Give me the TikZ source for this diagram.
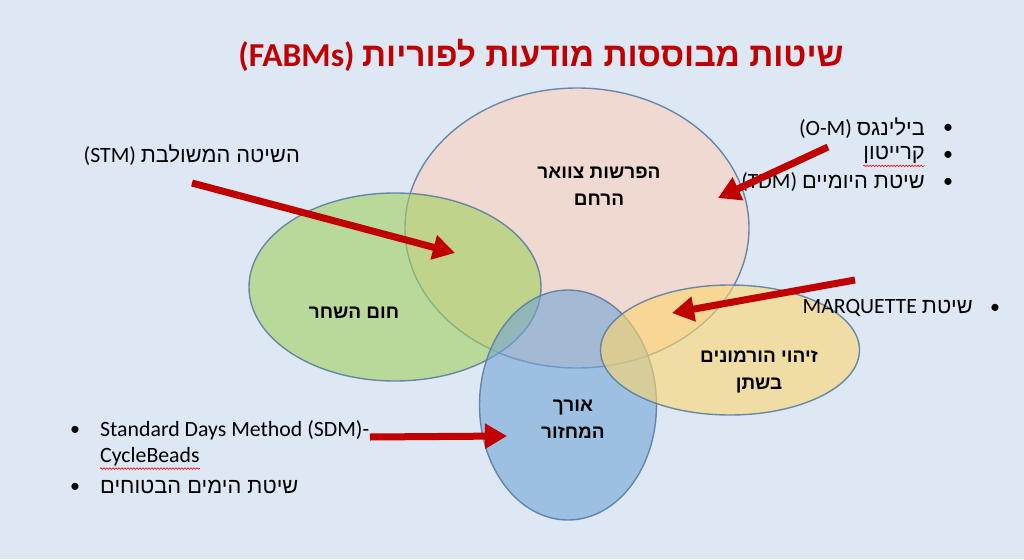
\documentclass[tikz,border=0pt]{standalone}
\usepackage{fontspec}
\setmainfont{Carlito}
\newfontfamily\heb[Script=Hebrew]{Liberation Sans}
\TeXXeTstate=1
\usetikzlibrary{shapes.geometric,arrows.meta,decorations.pathmorphing}
\definecolor{bg}{HTML}{DDE8F4}
\definecolor{edge}{HTML}{5B7EA4}
\definecolor{pinkf}{HTML}{FBCFB8}
\definecolor{greenf}{HTML}{A1CF5E}
\definecolor{bluef}{HTML}{72A5D6}
\definecolor{yellowf}{HTML}{FED76D}
\definecolor{dred}{HTML}{C00000}
\tikzset{
  venn/.style={ellipse, draw=edge, line width=1.4pt, fill opacity=0.6, draw opacity=0.9, inner sep=0pt},
  lbl/.style={font=\heb\bfseries\fontsize{19}{27}\selectfont, align=center, text=black},
  txt/.style={font=\fontsize{21.8}{26}\selectfont, text=black, inner sep=0pt},
  bul/.style={font=\fontsize{20}{24}\selectfont, text=black, inner sep=0pt},
  redarrow/.style={draw=dred, line width=7pt, -{Triangle[length=22pt,width=24pt]}},
  squiggle/.style={draw=red, line width=0.6pt, decorate, decoration={snake, amplitude=0.8pt, segment length=3pt}}
}
\begin{document}
\begin{tikzpicture}[x=1pt,y=-1pt]
\fill[bg] (0,0) rectangle (1024,559);
\useasboundingbox (0,0) rectangle (1024,559);

% title
\node[font=\bfseries\fontsize{33.5}{38}\selectfont, text=dred] (title) at (541,55)
  {\beginR{\heb שיטות מבוססות מודעות לפוריות} \beginL(FABMs)\endL\endR};

% ellipses
\node[venn, fill=pinkf, minimum width=344pt, minimum height=280pt] (cervix) at (577,228) {};
\node[venn, fill=greenf, minimum width=292pt, minimum height=188pt] (temp) at (395,287) {};
\node[venn, fill=bluef, minimum width=177pt, minimum height=230pt] (cycle) at (568,405) {};
\node[venn, fill=yellowf, minimum width=259pt, minimum height=130pt] (horm) at (730,350) {};

% ellipse labels
\node[lbl] (lcervix) at (599,186) {\beginR הפרשות צוואר\endR\\\beginR הרחם\endR};
\node[lbl] (ltemp) at (354,313) {\beginR חום השחר\endR};
\node[lbl] (lcycle) at (573,419) {\beginR אורך\endR\\\beginR המחזור\endR};
\node[lbl] (lhorm) at (759,372) {\beginR זיהוי הורמונים\endR\\\beginR בשתן\endR};

% STM label
\node[txt, anchor=east] (stm) at (300,155) {\beginR{\heb השיטה המשולבת} \beginL(STM)\endL\endR};

% top right list
\node[bul] (b1) at (948,129) {•};
\node[bul] (b2) at (948,156) {•};
\node[bul] (b3) at (948,183) {•};
\node[txt, anchor=east] (om) at (925,128) {\beginR{\heb בילינגס} \beginL(O-M)\endL\endR};
\node[txt, anchor=east] (creighton) at (925,155) {\beginR{\heb קרייטון}\endR};
\node[txt, anchor=east] (tdm) at (925,182) {\beginR{\heb שיטת היומיים} \beginL(TDM)\endL\endR};
\draw[squiggle] ([yshift=-2pt]creighton.south west) -- ([yshift=-2pt]creighton.south east);

% marquette
\node[bul] (b4) at (995,309) {•};
\node[txt, anchor=east] (marq) at (973,308) {\beginR{\heb שיטת} \beginL MARQUETTE\endL\endR};

% bottom-left list
\node[bul] (b5) at (75,431) {•};
\node[bul] (b6) at (75,488) {•};
\node[txt, anchor=west] (sdm) at (100,430) {Standard Days Method (SDM)-};
\node[txt, anchor=west] (beads) at (100,457) {CycleBeads};
\node[txt, anchor=west] (safe) at (100,487) {\beginR{\heb שיטת הימים הבטוחים}\endR};
\draw[squiggle] ([yshift=-2pt]beads.south west) -- ([yshift=-2pt]beads.south east);

% arrows
\coordinate (a1s) at (192,183); \coordinate (a1e) at (455,253);
\coordinate (a2s) at (828,147); \coordinate (a2e) at (718,198);
\coordinate (a3s) at (855,280); \coordinate (a3e) at (672,313);
\coordinate (a4s) at (370,437); \coordinate (a4e) at (507,436);
\draw[redarrow] (a1s) -- (a1e);
\draw[redarrow] (a2s) -- (a2e);
\draw[redarrow] (a3s) -- (a3e);
\draw[redarrow] (a4s) -- (a4e);
\end{tikzpicture}
\end{document}
